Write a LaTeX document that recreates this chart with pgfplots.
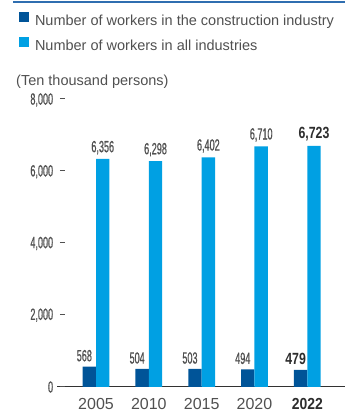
\documentclass[border=0pt]{standalone}
\usepackage{fontspec}
\setmainfont{Liberation Sans}
\newfontfamily\cond[FakeStretch=0.56,FakeBold=0.6]{Liberation Sans}
\newfontfamily\condb[FakeStretch=0.76]{Liberation Sans}
\newfontfamily\yearb[FakeStretch=0.87]{Liberation Sans}
\usepackage{pgfplots}
\pgfplotsset{compat=1.18}
\definecolor{cdark}{RGB}{0,84,152}
\definecolor{clight}{RGB}{0,160,227}
\definecolor{ctext}{RGB}{80,80,80}
\definecolor{cbold}{RGB}{45,45,45}
\definecolor{cline}{RGB}{47,110,176}
\definecolor{cbase}{RGB}{50,50,50}
\newcommand\lblsize{\fontsize{16.2}{16.2}\selectfont}
\pgfkeys{/pgf/number format/.cd,1000 sep={,}}
\begin{document}
\begin{tikzpicture}
\useasboundingbox (0pt,0pt) rectangle (345pt,414pt);
\fill[cline] (12.5pt,411.3pt) rectangle (345pt,412.6pt);
\begin{axis}[
  at={(57pt,27pt)}, anchor=south west,
  scale only axis, width=288pt, height=287pt,
  xmin=-0.739, xmax=4.714, ymin=0, ymax=8000,
  enlargelimits=false, clip=false,
  ybar=0pt, bar width=13.4pt,
  legend image code/.code={\fill[#1] (0pt,0pt) rectangle (10pt,10pt);},
  axis x line*=bottom, axis y line*=left,
  x axis line style={draw=cbase, line width=1pt, -},
  y axis line style={draw=none},
  major tick length=0pt,
  xtick={0,1,2,3,4},
  xticklabels={2005,2010,2015,2020,{\yearb\bfseries\color{cbold}2022}},
  xticklabel style={font=\fontsize{16}{16}\selectfont, text=ctext, inner sep=0pt, anchor=north, yshift=-11pt},
  ytick={0,2000,4000,6000,8000},
  yticklabel={{\cond\lblsize\pgfmathprintnumber[assume math mode=true]{\tick}}\hspace{6.7pt}{\rule[5.3pt]{5pt}{0.9pt}}},
  yticklabel style={text=ctext, inner sep=0pt, anchor=east, xshift=8pt},
  legend style={at={(axis description cs:-0.1319,1.3067)}, anchor=north west, draw=none, fill=none,
    inner sep=0pt, outer sep=0pt, row sep=8pt,
    font=\fontsize{14.5}{14.5}\selectfont, text=ctext,
    nodes={inner sep=0pt, text height=11pt, text depth=3pt},
    /tikz/every odd column/.append style={column sep=6pt}},
  legend cell align=left,
]
\addplot[fill=cdark, draw=none,
  nodes near coords={\ifnum\coordindex=4 {\condb\bfseries\color{cbold}\pgfmathprintnumber[assume math mode=true]{\pgfplotspointmeta}}\else{\cond\pgfmathprintnumber[assume math mode=true]{\pgfplotspointmeta}}\fi},
  every node near coord/.append style={font=\lblsize, text=ctext, anchor=south, inner sep=0pt, yshift=5pt, xshift=-5pt}]
  coordinates {(0,568) (1,504) (2,503) (3,494) (4,479)};
\addplot[fill=clight, draw=none,
  nodes near coords={\ifnum\coordindex=4 {\condb\bfseries\color{cbold}\pgfmathprintnumber[assume math mode=true]{\pgfplotspointmeta}}\else{\cond\pgfmathprintnumber[assume math mode=true]{\pgfplotspointmeta}}\fi},
  every node near coord/.append style={font=\lblsize, text=ctext, anchor=south, inner sep=0pt, yshift=4.5pt}]
  coordinates {(0,6356) (1,6298) (2,6402) (3,6710) (4,6723)};
\legend{Number of workers in the construction industry, Number of workers in all industries}
\node[anchor=base west, inner sep=0pt, text=ctext, font=\fontsize{14.5}{14.5}\selectfont] at (axis description cs:-0.1424,1.0488) {(Ten thousand persons)};
\end{axis}
\end{tikzpicture}
\end{document}
